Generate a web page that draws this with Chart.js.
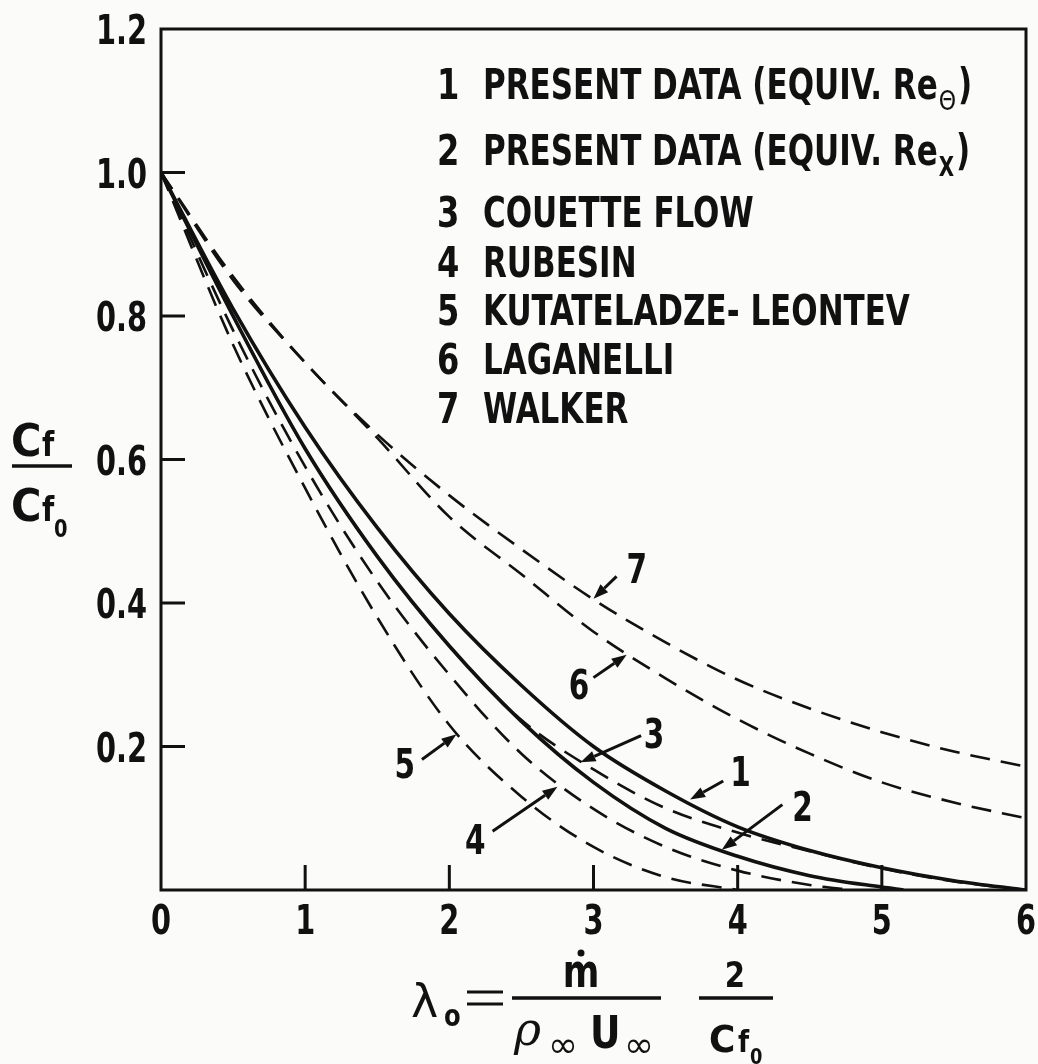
<!DOCTYPE html>
<html>
<head>
<meta charset="utf-8">
<script src="https://cdn.jsdelivr.net/npm/chart.js@4.4.1/dist/chart.umd.min.js"></script>
<style>
  html, body { margin: 0; padding: 0; background: #fbfbfa; }
  canvas { display: block; }
</style>
</head>
<body>
<canvas id="skinChart" width="1038" height="1064"></canvas>
<script>
// ---- data (lambda_o vs Cf/Cf0) ----
const lam = [0, 0.5, 1, 1.5, 2, 2.5, 3, 3.5, 4, 4.5, 5, 5.5, 6];

const presentTheta = [1, 0.81, 0.645, 0.505, 0.385, 0.285, 0.2, 0.138, 0.088, 0.055, 0.031, 0.013, 0];
const presentXLam = [0, 0.5, 1, 1.5, 2, 2.5, 3, 3.5, 4, 4.5, 5, 5.15];
const presentX = [1, 0.80, 0.615, 0.465, 0.34, 0.235, 0.15, 0.086, 0.047, 0.02, 0.004, 0];
const couette = [1, 0.80, 0.615, 0.465, 0.34, 0.237, 0.168, 0.114, 0.08, 0.054, 0.03, 0.012, 0];
const rubesinLam = [0, 0.5, 1, 1.5, 2, 2.5, 3, 3.5, 4, 4.5, 4.8];
const rubesin = [1, 0.78, 0.59, 0.43, 0.30, 0.19, 0.113, 0.06, 0.027, 0.007, 0];
const kutLam = [0, 0.5, 1, 1.5, 2, 2.5, 3, 3.5, 4];
const kutateladze = [1, 0.76, 0.56, 0.38, 0.23, 0.13, 0.06, 0.018, 0];
const laganelli = [1, 0.85, 0.735, 0.63, 0.52, 0.44, 0.36, 0.295, 0.238, 0.19, 0.15, 0.122, 0.10];
const walker = [1, 0.855, 0.735, 0.635, 0.55, 0.475, 0.405, 0.345, 0.293, 0.253, 0.22, 0.193, 0.172];

const xTicks = [0, 1, 2, 3, 4, 5, 6];
const yTicks = [0, 0.2, 0.4, 0.6, 0.8, 1.0, 1.2];

const legendNames = [
  'PRESENT DATA (EQUIV. Re',
  'PRESENT DATA (EQUIV. Re',
  'COUETTE FLOW',
  'RUBESIN',
  'KUTATELADZE- LEONTEV',
  'LAGANELLI',
  'WALKER'
];
const legendSubs = ['\u0398', 'X', '', '', '', '', ''];

// callout number, label spot, arrow tail, arrow tip (data units)
const calloutNums = ['1', '2', '3', '4', '5', '6', '7'];
const calloutLabel = [[4.02, 0.165], [4.45, 0.116], [3.42, 0.217], [2.18, 0.07], [1.69, 0.175], [2.90, 0.286], [3.30, 0.448]];
const calloutTail = [[3.90, 0.152], [4.31, 0.119], [3.33, 0.215], [2.30, 0.082], [1.81, 0.182], [3.0, 0.296], [3.16, 0.437]];
const calloutTip = [[3.67, 0.126], [3.89, 0.056], [2.91, 0.178], [2.75, 0.144], [2.05, 0.217], [3.23, 0.328], [3.0, 0.406]];

const ink = '#111111';
const FONT = '"Liberation Sans Narrow", "DejaVu Sans Condensed", "Arial Narrow", sans-serif';

function pts(xs, ys) {
  return xs.map((x, i) => ({ x: x, y: ys[i] }));
}

function curve(xs, ys, dashed) {
  return {
    data: pts(xs, ys),
    borderColor: ink,
    borderWidth: dashed ? 2.6 : 3.6,
    borderDash: dashed ? [20, 11] : [],
    pointRadius: 0,
    fill: false,
    cubicInterpolationMode: 'monotone'
  };
}

function drawText(ctx, str, x, y, size, align, squeeze, weight, family) {
  ctx.save();
  ctx.font = (weight || 'bold') + ' ' + size + 'px ' + (family || FONT);
  ctx.textAlign = align || 'left';
  ctx.textBaseline = 'alphabetic';
  ctx.translate(x, y);
  ctx.scale(squeeze || 1, 1);
  ctx.fillText(str, 0, 0);
  const w = ctx.measureText(str).width * (squeeze || 1);
  ctx.restore();
  return w;
}

function arrow(ctx, x1, y1, x2, y2) {
  const ang = Math.atan2(y2 - y1, x2 - x1);
  const head = 15, half = 5.5;
  const bx = x2 - head * Math.cos(ang), by = y2 - head * Math.sin(ang);
  ctx.beginPath();
  ctx.moveTo(x1, y1);
  ctx.lineTo(bx, by);
  ctx.lineWidth = 3;
  ctx.stroke();
  ctx.beginPath();
  ctx.moveTo(x2, y2);
  ctx.lineTo(bx + half * Math.sin(ang), by - half * Math.cos(ang));
  ctx.lineTo(bx - half * Math.sin(ang), by + half * Math.cos(ang));
  ctx.closePath();
  ctx.fill();
}

const paperPlugin = {
  id: 'paper',
  beforeDraw(chart) {
    const ctx = chart.ctx;
    ctx.save();
    ctx.fillStyle = '#fbfbfa';
    ctx.fillRect(0, 0, chart.width, chart.height);
    ctx.restore();
  },
  afterDraw(chart) {
    const ctx = chart.ctx;
    const a = chart.chartArea;
    const xs = chart.scales.x, ys = chart.scales.y;
    ctx.save();
    ctx.strokeStyle = ink;
    ctx.fillStyle = ink;
    ctx.lineCap = 'butt';

    // frame
    ctx.lineWidth = 3;
    ctx.strokeRect(a.left, a.top, a.right - a.left, a.bottom - a.top);

    // inward tick stubs
    yTicks.slice(1, -1).forEach(v => {
      const py = ys.getPixelForValue(v);
      ctx.beginPath();
      ctx.moveTo(a.left, py);
      ctx.lineTo(a.left + 24, py);
      ctx.stroke();
    });
    xTicks.slice(1, -1).forEach(v => {
      const px = xs.getPixelForValue(v);
      ctx.beginPath();
      ctx.moveTo(px, a.bottom);
      ctx.lineTo(px, a.bottom - 25);
      ctx.stroke();
    });

    // tick labels, narrow bold
    ys.ticks.forEach(t => {
      if (t.value === 0) return;
      drawText(ctx, t.value.toFixed(1), a.left - 14, ys.getPixelForValue(t.value) + 15, 40, 'right', 0.8);
    });
    xs.ticks.forEach(t => {
      drawText(ctx, String(t.value), xs.getPixelForValue(t.value), a.bottom + 44, 40, 'center', 0.8);
    });

    // legend block
    const legY = [99, 165, 227, 277, 325, 374, 423];
    legendNames.forEach((name, i) => {
      drawText(ctx, String(i + 1), 437, legY[i], 42, 'left', 0.85);
      let w = drawText(ctx, name, 483, legY[i], 42, 'left', 0.82);
      if (legendSubs[i]) {
        const sub = legendSubs[i];
        const sw = drawText(ctx, sub, 483 + w + 1, legY[i] + 11, 26, 'left', 0.85,
          sub === 'X' ? 'bold' : 'normal', sub === 'X' ? FONT : '"DejaVu Sans", sans-serif');
        drawText(ctx, ')', 483 + w + sw + 3, legY[i], 42, 'left', 0.82);
      }
    });

    // callouts
    calloutNums.forEach((n, i) => {
      const lx = xs.getPixelForValue(calloutLabel[i][0]);
      const ly = ys.getPixelForValue(calloutLabel[i][1]);
      drawText(ctx, n, lx, ly + 14, 40, 'center', 0.82);
      arrow(ctx,
        xs.getPixelForValue(calloutTail[i][0]), ys.getPixelForValue(calloutTail[i][1]),
        xs.getPixelForValue(calloutTip[i][0]), ys.getPixelForValue(calloutTip[i][1]));
    });

    // y title: Cf / Cf0
    drawText(ctx, 'C', 11, 456, 44, 'left', 1.05);
    drawText(ctx, 'f', 42, 456, 33, 'left', 0.95);
    ctx.lineWidth = 3.5;
    ctx.beginPath();
    ctx.moveTo(12, 466);
    ctx.lineTo(72, 466);
    ctx.stroke();
    drawText(ctx, 'C', 11, 521, 44, 'left', 1.05);
    drawText(ctx, 'f', 42, 521, 33, 'left', 0.95);
    drawText(ctx, '0', 54, 537, 24, 'left', 0.9);

    // x title: lambda_o = mdot/(rho U) * 2/Cf0
    drawText(ctx, '\u03bb', 411, 1017, 46, 'left', 1, 'normal', '"DejaVu Sans", sans-serif');
    drawText(ctx, 'o', 444, 1026, 30, 'left', 0.9);
    ctx.lineWidth = 3;
    ctx.beginPath();
    ctx.moveTo(467, 992); ctx.lineTo(503, 992);
    ctx.moveTo(467, 1004); ctx.lineTo(503, 1004);
    ctx.stroke();
    ctx.lineWidth = 3.5;
    ctx.beginPath();
    ctx.moveTo(512, 998); ctx.lineTo(661, 998);
    ctx.moveTo(699, 998); ctx.lineTo(773, 998);
    ctx.stroke();
    drawText(ctx, 'm', 581, 987, 46, 'center', 0.85);
    ctx.beginPath();
    ctx.arc(581, 953, 3.5, 0, Math.PI * 2);
    ctx.fill();
    drawText(ctx, '\u03c1', 514, 1045, 46, 'left', 1, 'italic', '"DejaVu Serif", serif');
    drawText(ctx, '\u221e', 548, 1057, 36, 'left', 1, 'normal', '"DejaVu Sans", sans-serif');
    drawText(ctx, 'U', 590, 1048, 44, 'left', 0.95);
    drawText(ctx, '\u221e', 624, 1057, 36, 'left', 1, 'normal', '"DejaVu Sans", sans-serif');
    drawText(ctx, '2', 735, 987, 36, 'center', 0.9);
    drawText(ctx, 'C', 709, 1052, 38, 'left', 1.05);
    drawText(ctx, 'f', 738, 1052, 30, 'left', 0.95);
    drawText(ctx, '0', 750, 1064, 22, 'left', 0.9);

    ctx.restore();
  }
};

const ctx = document.getElementById('skinChart').getContext('2d');
new Chart(ctx, {
  type: 'line',
  data: {
    datasets: [
      curve(lam, presentTheta, false),
      curve(presentXLam, presentX, false),
      curve(lam, couette, true),
      curve(rubesinLam, rubesin, true),
      curve(kutLam, kutateladze, true),
      curve(lam, laganelli, true),
      curve(lam, walker, true)
    ]
  },
  options: {
    responsive: false,
    animation: false,
    layout: { padding: { left: 0, top: 29, right: 12, bottom: 0 } },
    plugins: { legend: { display: false }, tooltip: { enabled: false } },
    scales: {
      x: {
        type: 'linear',
        min: 0,
        max: 6,
        grid: { display: false, drawTicks: false },
        border: { display: false },
        ticks: { display: false },
        afterBuildTicks: s => { s.ticks = xTicks.map(v => ({ value: v })); },
        afterFit: s => { s.height = 174; s.paddingLeft = 0; s.paddingRight = 0; }
      },
      y: {
        type: 'linear',
        min: 0,
        max: 1.2,
        grid: { display: false, drawTicks: false },
        border: { display: false },
        ticks: { display: false },
        afterBuildTicks: s => { s.ticks = yTicks.map(v => ({ value: v })); },
        afterFit: s => { s.width = 161; s.paddingTop = 0; s.paddingBottom = 0; }
      }
    }
  },
  plugins: [paperPlugin]
});
</script>
</body>
</html>
